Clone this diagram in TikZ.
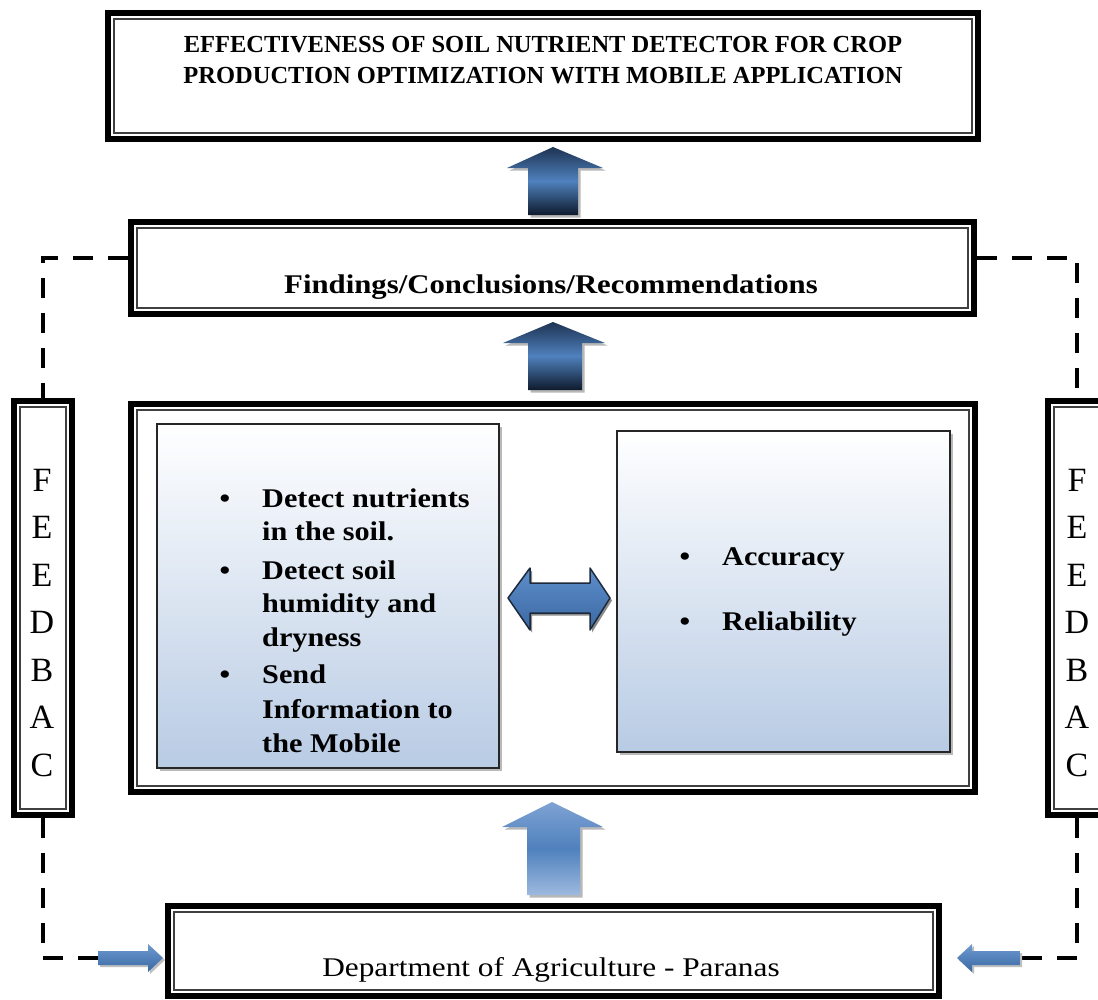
\documentclass[tikz,border=0pt]{standalone}
\usepackage{fontspec}
\setmainfont{Liberation Serif}
\newfontfamily\listfont[FakeStretch=1.12]{Liberation Serif}
\newfontfamily\deptfont[FakeStretch=1.16]{Liberation Serif}
\newfontfamily\findfont[FakeStretch=1.14]{Liberation Serif}
\usetikzlibrary{shadows,calc}
\definecolor{navytop}{HTML}{1E3352}
\definecolor{navybot}{HTML}{0E1A2C}
\definecolor{steel}{HTML}{4F81BD}
\definecolor{lightsteel}{HTML}{7FA3D4}
\definecolor{palesteel}{HTML}{9DB9DF}
\definecolor{gboxblue}{HTML}{B8CBE4}
\definecolor{darrtop}{HTML}{5E8FCB}
\definecolor{darrbot}{HTML}{3A68A3}
\definecolor{darrline}{HTML}{1C2A3C}
\begin{document}
\begin{tikzpicture}[x=1pt,y=-1pt,
  dbox/.style={draw=black, line width=6pt, fill=white, inner sep=0pt,
    path picture={\draw[line width=1.5pt, black!75]
      ([xshift=6pt,yshift=-6pt]path picture bounding box.north west) rectangle
      ([xshift=-6pt,yshift=6pt]path picture bounding box.south east);}},
  gbox/.style={draw=black!85, line width=1.5pt, top color=white, bottom color=gboxblue,
    inner sep=0pt,
    drop shadow={shadow xshift=3pt, shadow yshift=-3pt, fill=black!50, opacity=0.55}},
  dashline/.style={line width=3.5pt, dash pattern=on 20pt off 15pt},
  titletext/.style={font=\bfseries\fontsize{24.5}{29}\selectfont, inner sep=0pt, anchor=base},
  findtext/.style={font=\findfont\bfseries\fontsize{27}{32}\selectfont, inner sep=0pt, anchor=base},
  listtext/.style={font=\listfont\bfseries\fontsize{27}{32}\selectfont, inner sep=0pt, anchor=base west},
  bullettext/.style={font=\listfont\bfseries\fontsize{27}{32}\selectfont, inner sep=0pt, anchor=base},
  depttext/.style={font=\deptfont\fontsize{27}{32}\selectfont, inner sep=0pt, anchor=base},
  fbletter/.style={font=\fontsize{34}{40}\selectfont, inner sep=0pt, anchor=base},
  darkarrow/.style={top color=navytop, bottom color=navybot, middle color=steel},
  lightarrow/.style={top color=lightsteel, bottom color=palesteel, middle color=steel},
  smallarrow/.style={top color=darrtop!90, bottom color=darrbot},
  arrowshadow/.style={fill=black!28}
]
\fill[white] (0,0) rectangle (1098,999);
\useasboundingbox (0,0) rectangle (1098,999);

% main boxes
\node[dbox, minimum width=870pt, minimum height=126pt] (top) at (543,76) {};
\node[dbox, minimum width=843pt, minimum height=92pt] (find) at (552.5,268) {};
\node[dbox, minimum width=844pt, minimum height=388pt] (mid) at (553,598) {};
\node[dbox, minimum width=771pt, minimum height=90pt] (dept) at (553.5,951) {};
\node[dbox, minimum width=58pt, minimum height=414pt] (fbL) at (43,608) {};
\node[dbox, minimum width=58pt, minimum height=414pt] (fbR) at (1077,608) {};

% gradient boxes inside the middle box
\node[gbox, minimum width=342pt, minimum height=344pt] (left) at (328,596) {};
\node[gbox, minimum width=333pt, minimum height=321pt] (right) at (783.5,591.5) {};

% texts
\node[titletext] (t1) at (543,52) {EFFECTIVENESS OF SOIL NUTRIENT DETECTOR FOR CROP};
\node[titletext] (t2) at (543,83) {PRODUCTION OPTIMIZATION WITH MOBILE APPLICATION};
\node[findtext] (ft) at (551,293) {Findings/Conclusions/Recommendations};
\node[depttext] (dt) at (551,976) {Department of Agriculture - Paranas};

\node[bullettext] (b1) at (225,507) {\textbullet};
\node[listtext] (l1) at (262,507) {Detect nutrients};
\node[listtext] (l2) at (262,540) {in the soil.};
\node[bullettext] (b2) at (225,579) {\textbullet};
\node[listtext] (l3) at (262,579) {Detect soil};
\node[listtext] (l4) at (262,612) {humidity and};
\node[listtext] (l5) at (262,646) {dryness};
\node[bullettext] (b3) at (225,683) {\textbullet};
\node[listtext] (l6) at (262,683) {Send};
\node[listtext] (l7) at (262,718) {Information to};
\node[listtext] (l8) at (262,752) {the Mobile};

\node[bullettext] (b4) at (685,565) {\textbullet};
\node[listtext] (r1) at (722,565) {Accuracy};
\node[bullettext] (b5) at (685,630) {\textbullet};
\node[listtext] (r2) at (722,630) {Reliability};

\foreach \L [count=\k from 0] in {F,E,E,D,B,A,C} {
  \node[fbletter] (fl\k) at (42,{491+47.5*\k}) {\L};
  \node[fbletter] (fr\k) at (1077,{491+47.5*\k}) {\L};
}

% block arrows (up)
\fill[arrowshadow, xshift=2.5pt, yshift=-2.5pt] (528,215) -- (528,168) -- (507,168) -- (553,147) -- (603,168) -- (578,168) -- (578,215) -- cycle;
\shade[darkarrow] (528,215) -- (528,168) -- (507,168) -- (553,147) -- (603,168) -- (578,168) -- (578,215) -- cycle;

\fill[arrowshadow, xshift=2.5pt, yshift=-2.5pt] (528,390) -- (528,343) -- (503,343) -- (553,322) -- (605,343) -- (582,343) -- (582,390) -- cycle;
\shade[darkarrow] (528,390) -- (528,343) -- (503,343) -- (553,322) -- (605,343) -- (582,343) -- (582,390) -- cycle;

\fill[arrowshadow, xshift=2.5pt, yshift=-2.5pt] (527,895) -- (527,827) -- (502,827) -- (552,802) -- (603,827) -- (580,827) -- (580,895) -- cycle;
\shade[lightarrow] (527,895) -- (527,827) -- (502,827) -- (552,802) -- (603,827) -- (580,827) -- (580,895) -- cycle;

% double arrow between the two inner boxes
\fill[black!45, xshift=2pt, yshift=-2.5pt] (508,598) -- (530,568) -- (530,583) -- (590,583) -- (590,568) -- (610,598) -- (590,630) -- (590,613) -- (530,613) -- (530,630) -- cycle;
\shade[top color=darrtop, bottom color=darrbot, draw=darrline, line width=1.5pt, line join=round]
  (508,598) -- (530,568) -- (530,583) -- (590,583) -- (590,568) -- (610,598) -- (590,630) -- (590,613) -- (530,613) -- (530,630) -- cycle;

% feedback connectors
\coordinate (sL) at (98,958);
\coordinate (sR) at (1020,958);
\draw[dashline] ([yshift=10pt]find.west) -| (fbL.north);
\draw[dashline] ([yshift=10pt]find.east) -| (fbR.north);
\draw[dashline] (fbL.south) |- (sL);
\draw[dashline] (fbR.south) |- (sR);

% small feedback arrows into the bottom box
\fill[black!25, xshift=2pt, yshift=-2pt] (98,951) -- (148,951) -- (148,944) -- (163,958) -- (148,972) -- (148,965) -- (98,965) -- cycle;
\shade[smallarrow] (98,951) -- (148,951) -- (148,944) -- (163,958) -- (148,972) -- (148,965) -- (98,965) -- cycle;
\fill[black!25, xshift=2pt, yshift=-2pt] (1020,951) -- (972,951) -- (972,944) -- (957,958) -- (972,972) -- (972,965) -- (1020,965) -- cycle;
\shade[smallarrow] (1020,951) -- (972,951) -- (972,944) -- (957,958) -- (972,972) -- (972,965) -- (1020,965) -- cycle;
\end{tikzpicture}
\end{document}
